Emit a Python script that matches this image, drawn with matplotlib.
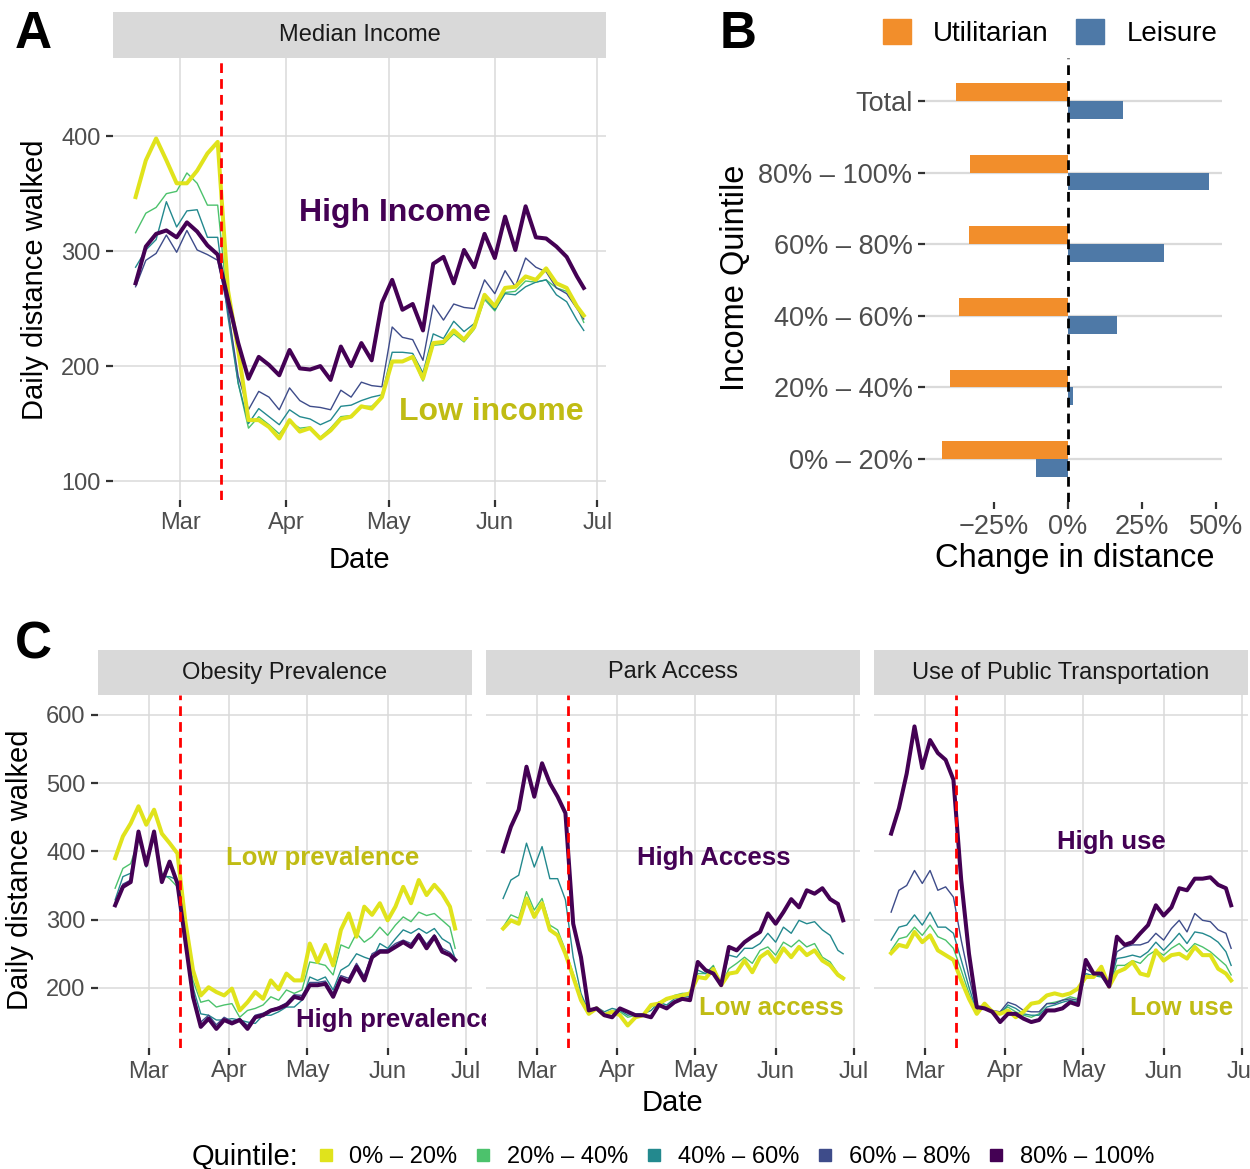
import matplotlib
matplotlib.use('Agg')
import matplotlib.pyplot as plt
import matplotlib.dates as mdates
import numpy as np
import pandas as pd
from matplotlib.lines import Line2D
from matplotlib.patches import Patch

plt.rcParams['font.family'] = ['Liberation Sans', 'DejaVu Sans']

# ---------------- data ----------------
days = [-13, -10, -7, -4, -1, 2, 5, 8, 11, 14, 17, 20, 23, 26, 29, 32, 35, 38, 41, 44,
        47, 50, 53, 56, 59, 62, 65, 68, 71, 74, 77, 80, 83, 86, 89, 92, 95, 98, 101, 104,
        107, 110, 113, 116, 118]  # days from 2020-03-01
lockdown_day = 12
quintiles = ['0% – 20%', '20% – 40%', '40% – 60%', '60% – 80%', '80% – 100%']

inc_q1 = [347, 379, 398, 379, 359, 359, 370, 385, 395, 266, 214, 153, 153, 147, 137, 153, 143, 146, 137, 144,
          154, 156, 165, 163, 173, 204, 204, 208, 189, 220, 221, 231, 223, 234, 262, 252, 268, 269, 278, 275,
          285, 272, 268, 252, 244]
inc_q2 = [316, 333, 338, 350, 352, 368, 359, 340, 340, 250, 185, 146, 156, 149, 141, 152, 146, 147, 138, 146,
          156, 157, 165, 165, 173, 203, 204, 207, 187, 218, 219, 228, 221, 232, 258, 248, 264, 265, 274, 273,
          275, 268, 265, 252, 238]
inc_q3 = [286, 301, 310, 343, 321, 335, 336, 312, 312, 243, 185, 150, 163, 156, 149, 162, 156, 154, 149, 153,
          165, 166, 170, 173, 175, 212, 212, 211, 194, 228, 224, 239, 230, 237, 260, 249, 263, 262, 269, 273,
          275, 262, 256, 240, 231]
inc_q4 = [269, 292, 298, 314, 299, 318, 301, 297, 292, 249, 191, 162, 178, 173, 162, 181, 170, 165, 164, 162,
          179, 173, 186, 183, 182, 234, 225, 223, 205, 253, 240, 254, 251, 250, 275, 263, 283, 269, 294, 286,
          282, 268, 263, 250, 241]
inc_q5 = [272, 304, 315, 318, 312, 325, 317, 305, 297, 258, 220, 189, 208, 201, 192, 214, 198, 197, 200, 188,
          217, 200, 220, 205, 255, 275, 249, 254, 231, 289, 295, 272, 301, 286, 315, 294, 330, 301, 339, 312,
          311, 304, 295, 278, 268]

ob_q1 = [390, 422, 441, 466, 439, 461, 426, 412, 397, 299, 226, 189, 201, 194, 189, 199, 167, 179, 194, 184,
         211, 198, 221, 211, 211, 265, 238, 263, 233, 285, 309, 275, 319, 307, 324, 299, 319, 348, 324, 358,
         336, 351, 338, 319, 287]
ob_q2 = [346, 375, 382, 417, 382, 426, 368, 360, 348, 270, 211, 179, 182, 172, 175, 177, 157, 167, 170, 175,
         187, 182, 197, 192, 197, 238, 236, 233, 219, 263, 258, 280, 267, 275, 289, 277, 292, 304, 297, 311,
         306, 309, 299, 289, 258]
ob_q3 = [329, 363, 368, 426, 377, 426, 363, 363, 358, 270, 201, 162, 160, 153, 153, 155, 153, 150, 148, 160,
         160, 165, 172, 172, 182, 216, 211, 216, 197, 226, 233, 250, 245, 241, 265, 258, 272, 285, 280, 287,
         280, 287, 272, 265, 243]
ob_q4 = [325, 352, 358, 428, 378, 428, 356, 380, 355, 272, 192, 150, 160, 146, 157, 151, 155, 145, 160, 163,
         168, 172, 178, 190, 189, 208, 208, 210, 192, 218, 214, 236, 217, 250, 256, 256, 265, 270, 265, 280,
         264, 278, 258, 252, 243]
ob_q5 = [321, 348, 355, 429, 380, 429, 355, 385, 353, 270, 187, 143, 155, 140, 153, 148, 153, 140, 157, 160,
         167, 170, 175, 187, 184, 204, 204, 206, 187, 214, 209, 231, 211, 245, 253, 253, 260, 267, 260, 277,
         258, 275, 253, 248, 241]

pk_q1 = [287, 299, 294, 331, 304, 324, 285, 277, 250, 216, 182, 162, 170, 160, 165, 160, 145, 157, 160, 175,
         177, 184, 187, 189, 192, 216, 214, 228, 204, 221, 223, 240, 223, 245, 253, 238, 258, 245, 260, 248,
         255, 240, 233, 219, 214]
pk_q2 = [289, 307, 302, 341, 314, 331, 292, 285, 255, 221, 187, 165, 172, 162, 167, 165, 157, 160, 162, 172,
         179, 182, 189, 192, 192, 221, 221, 233, 204, 228, 236, 245, 236, 255, 260, 248, 267, 260, 270, 260,
         265, 245, 238, 221, 216]
pk_q3 = [331, 358, 365, 412, 377, 407, 360, 360, 329, 245, 192, 165, 172, 165, 170, 167, 160, 162, 162, 167,
         179, 175, 184, 187, 187, 226, 221, 231, 204, 248, 245, 258, 258, 265, 280, 267, 289, 280, 299, 294,
         297, 285, 277, 255, 250]
pk_q5 = [400, 436, 461, 524, 480, 529, 500, 480, 456, 294, 245, 167, 170, 160, 157, 170, 165, 160, 160, 157,
         175, 170, 179, 184, 182, 238, 226, 221, 204, 260, 255, 267, 275, 282, 309, 294, 311, 330, 318, 343,
         338, 346, 330, 323, 299]

tr_q1 = [251, 263, 260, 282, 267, 277, 255, 248, 241, 211, 184, 162, 177, 165, 162, 167, 157, 165, 177, 179,
         189, 192, 189, 192, 199, 216, 216, 231, 202, 223, 228, 238, 221, 218, 255, 240, 248, 250, 243, 260,
         248, 248, 228, 221, 211]
tr_q2 = [255, 272, 275, 289, 277, 292, 275, 270, 258, 226, 192, 162, 175, 162, 165, 172, 165, 160, 157, 162,
         177, 179, 182, 187, 184, 218, 218, 218, 202, 233, 233, 240, 236, 248, 255, 248, 258, 265, 253, 265,
         260, 253, 243, 233, 219]
tr_q3 = [270, 289, 292, 307, 292, 311, 289, 289, 280, 241, 201, 165, 172, 165, 162, 175, 170, 162, 160, 160,
         172, 175, 179, 182, 179, 221, 218, 216, 202, 243, 245, 248, 245, 253, 267, 255, 267, 280, 265, 282,
         280, 275, 267, 253, 233]
tr_q4 = [311, 343, 350, 372, 353, 372, 343, 348, 333, 270, 216, 167, 175, 167, 165, 179, 175, 167, 165, 165,
         177, 177, 182, 184, 182, 228, 221, 221, 202, 253, 260, 263, 263, 267, 280, 270, 287, 299, 282, 309,
         299, 297, 285, 280, 258]
tr_q5 = [426, 463, 514, 583, 522, 563, 544, 534, 505, 358, 250, 172, 170, 165, 150, 162, 162, 155, 150, 153,
         167, 167, 170, 179, 175, 241, 221, 221, 202, 275, 263, 267, 280, 292, 321, 306, 318, 346, 343, 360,
         360, 362, 351, 346, 321]

b_categories = ['0% – 20%', '20% – 40%', '40% – 60%', '60% – 80%', '80% – 100%', 'Total']
b_utilitarian = [-42.7, -39.8, -36.7, -33.3, -33.0, -37.7]
b_leisure = [-10.8, 1.6, 16.7, 32.3, 47.7, 18.4]

# ---------------- styling ----------------
colors = ['#E0E31C', '#4CC26C', '#23898E', '#3E4C8A', '#440154']
txt_yellow = '#C0BC14'
txt_purple = '#440154'
c_util = '#F28E2B'
c_leis = '#4E79A7'

W, H = 1250, 1169
fig = plt.figure(figsize=(W / 100, H / 100), dpi=100)


def add_ax(l, t, r, b):
    return fig.add_axes([l / W, 1 - b / H, (r - l) / W, (b - t) / H])


def fx(x):
    return x / W


def fy(y):
    return 1 - y / H


base = pd.Timestamp('2020-03-01')
dates = base + pd.to_timedelta(days, unit='D')
xlim = (base + pd.Timedelta(days=-19.6), base + pd.Timedelta(days=124.5))


def D(d):
    return base + pd.Timedelta(days=d)


def strip(l, t, r, b, text):
    s = add_ax(l, t, r, b)
    s.set_facecolor('#D9D9D9')
    s.set_xticks([])
    s.set_yticks([])
    for sp in s.spines.values():
        sp.set_visible(False)
    s.text(0.5, 0.5, text, ha='center', va='center', fontsize=17, color='#1A1A1A',
           transform=s.transAxes)


def style_ts(ax, show_y, yticks, ylim):
    ax.set_facecolor('white')
    for sp in ax.spines.values():
        sp.set_visible(False)
    ax.grid(True, color='#DADADA', lw=1.1)
    ax.set_axisbelow(True)
    ax.set_xlim(*xlim)
    ax.set_ylim(*ylim)
    ax.set_yticks(yticks)
    ax.xaxis.set_major_locator(mdates.MonthLocator())
    ax.xaxis.set_major_formatter(mdates.DateFormatter('%b'))
    ax.tick_params(axis='both', length=5, width=1.6, color='#333333',
                   labelcolor='#4D4D4D', labelsize=17, pad=4)
    if not show_y:
        ax.tick_params(axis='y', length=0, labelleft=False)


def draw_series(ax, series):
    thin = [s for s in series if s[1] in (1, 2, 3)]
    thick = [s for s in series if s[1] in (0, 4)]
    for vals, ci in thin:
        ax.plot(dates, vals, color=colors[ci], lw=1.0, zorder=3)
    for vals, ci in sorted(thick, key=lambda s: s[1]):
        ax.plot(dates, vals, color=colors[ci], lw=2.9, zorder=4, solid_joinstyle='round')
    ax.axvline(D(lockdown_day), color='#FF0000', lw=2.0, ls=(0, (3.5, 2.2)), zorder=5)


# ---------------- Panel A ----------------
strip(113, 12, 606, 58, 'Median Income')
axA = add_ax(113, 58, 606, 500)
style_ts(axA, True, [100, 200, 300, 400], (83.5, 468))
draw_series(axA, [(inc_q1, 0), (inc_q2, 1), (inc_q3, 2), (inc_q4, 3), (inc_q5, 4)])
axA.text(D(62.7), 333, 'High Income', color=txt_purple, fontsize=23, fontweight='bold',
         ha='center', va='center', zorder=6)
axA.text(D(91), 160, 'Low income', color=txt_yellow, fontsize=23, fontweight='bold',
         ha='center', va='center', zorder=6)
fig.text(fx(35), fy(280), 'Daily distance walked', rotation=90, fontsize=21,
         ha='center', va='center')
fig.text(fx(359), fy(560), 'Date', fontsize=21, ha='center', va='center')
fig.text(fx(15), fy(34), 'A', fontsize=37, fontweight='bold', ha='left', va='center')

# ---------------- Panel B ----------------
axB = add_ax(925, 58, 1222, 502)
yb = np.arange(len(b_categories))
axB.barh(yb + 0.125, b_utilitarian, height=0.25, color=c_util, zorder=3)
axB.barh(yb - 0.125, b_leisure, height=0.25, color=c_leis, zorder=3)
axB.axvline(0, color='black', lw=2.0, ls=(0, (3.5, 2.2)), zorder=4)
axB.set_xlim(-48.3, 52)
axB.set_ylim(-0.6, 5.6)
axB.set_yticks(yb)
axB.set_yticklabels(b_categories)
axB.set_xticks([-25, 0, 25, 50])
axB.set_xticklabels(['\u221225%', '0%', '25%', '50%'])
for sp in axB.spines.values():
    sp.set_visible(False)
axB.grid(True, axis='y', color='#DADADA', lw=1.6)
axB.grid(False, axis='x')
axB.set_axisbelow(True)
axB.tick_params(axis='both', length=5, width=1.6, color='#333333',
                labelcolor='#4D4D4D', labelsize=19.5, pad=4)
fig.text(fx(735), fy(278), 'Income Quintile', rotation=90, fontsize=23.5,
         ha='center', va='center')
fig.text(fx(1075), fy(559), 'Change in distance', fontsize=23.5, ha='center', va='center')
fig.text(fx(720), fy(34), 'B', fontsize=37, fontweight='bold', ha='left', va='center')
fig.legend([Patch(color=c_util), Patch(color=c_leis)], ['Utilitarian', 'Leisure'],
           loc='center', bbox_to_anchor=(fx(1050), fy(33)), ncol=2, frameon=False,
           fontsize=20, handlelength=1.0, handleheight=1.0, handletextpad=0.8,
           columnspacing=1.0)

# ---------------- Panel C ----------------
ylimC = (112, 629)
yticksC = [200, 300, 400, 500, 600]
panels = [
    (98, 472, 'Obesity Prevalence', [(ob_q1, 0), (ob_q2, 1), (ob_q3, 2), (ob_q4, 3), (ob_q5, 4)],
     [('Low prevalence', 66.8, 390, txt_yellow), ('High prevalence', 95, 153, txt_purple)]),
    (486, 860, 'Park Access', [(pk_q1, 0), (pk_q2, 1), (pk_q3, 2), (pk_q5, 4)],
     [('High Access', 68, 390, txt_purple), ('Low access', 90.4, 170, txt_yellow)]),
    (874, 1248, 'Use of Public Transportation',
     [(tr_q1, 0), (tr_q2, 1), (tr_q3, 2), (tr_q4, 3), (tr_q5, 4)],
     [('High use', 72, 414, txt_purple), ('Low use', 99, 170, txt_yellow)]),
]
for i, (l, r, title, series, labels) in enumerate(panels):
    strip(l, 650, r, 695, title)
    ax = add_ax(l, 695, r, 1048)
    style_ts(ax, i == 0, yticksC, ylimC)
    draw_series(ax, series)
    for txt, d, v, c in labels:
        t = ax.text(D(d), v, txt, color=c, fontsize=18.5, fontweight='bold',
                    ha='center', va='center', zorder=6)
        t.set_clip_on(False)

fig.text(fx(20), fy(870), 'Daily distance walked', rotation=90, fontsize=21,
         ha='center', va='center')
fig.text(fx(672), fy(1103), 'Date', fontsize=21, ha='center', va='center')
fig.text(fx(15), fy(645), 'C', fontsize=37, fontweight='bold', ha='left', va='center')

# bottom legend
handles = [Line2D([], [], marker='s', ls='', color=c, markersize=9) for c in colors]
fig.text(fx(192), fy(1157), 'Quintile:', fontsize=21, ha='left', va='center')
fig.legend(handles, quintiles, loc='center', bbox_to_anchor=(fx(735), fy(1157)), ncol=5,
           frameon=False, fontsize=17, handlelength=0.8, handletextpad=0.6,
           columnspacing=0.7, borderpad=0)

fig.savefig('out.png', dpi=100)
